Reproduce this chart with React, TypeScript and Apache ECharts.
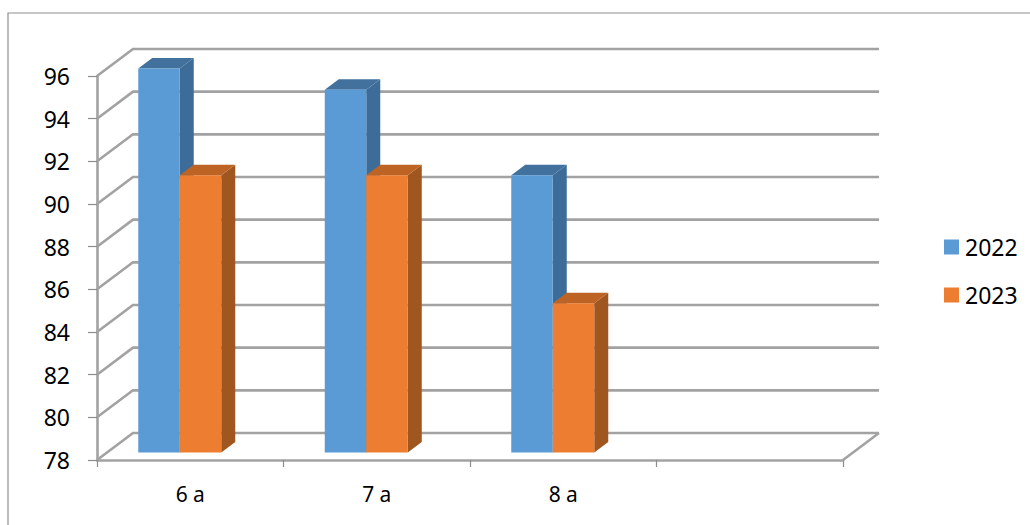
import React, { useEffect, useRef } from "react";
import * as echarts from "echarts";

const categories = ["6 a", "7 a", "8 a", ""];
const series2022 = [96, 95, 91, null];
const series2023 = [91, 91, 85, null];
const yTicks = [78, 80, 82, 84, 86, 88, 90, 92, 94, 96];
const BLUE = ["#5b9bd5", "#3d6c98", "#41719c"];
const ORANGE = ["#ed7d31", "#a0561f", "#bd6425"];
const GRID = "#a2a2a2";
const FONT = "'Noto Sans', sans-serif";
const D = { x: 36, y: -27 };
const BAR_W = 41.5;
const DEPTH = { x: 14, y: -10.5 };
const SHIFT = { x: -10.5, y: -7.5 };

const wallItem = (params: any, api: any) => {
  const v = api.value(0);
  const [, y] = api.coord([0, v]);
  const r = params.coordSys.x + params.coordSys.width;
  const x = params.coordSys.x;
  const lineStyle = { stroke: GRID, lineWidth: 2.6, fill: "none" };
  const children: any[] = [
    { type: "polyline", shape: { points: [[x, y], [x + D.x, y + D.y], [r + D.x, y + D.y]] }, style: lineStyle },
  ];
  if (v === yTicks[0]) {
    children.push({ type: "line", shape: { x1: r, y1: y, x2: r + D.x, y2: y + D.y }, style: lineStyle });
  }
  return { type: "group", children };
};

const barItem = (colors: string[], side: number) => (params: any, api: any) => {
  const catIndex = api.value(0);
  const val = api.value(1);
  const [cx, top0] = api.coord([catIndex, val]);
  const [, bot0] = api.coord([catIndex, yTicks[0]]);
  const left = cx + SHIFT.x + (side < 0 ? -BAR_W : 0);
  const right = left + BAR_W;
  const top = top0 + SHIFT.y;
  const bot = bot0 + SHIFT.y;
  return {
    type: "group",
    children: [
      { type: "polygon", shape: { points: [[right, top], [right + DEPTH.x, top + DEPTH.y], [right + DEPTH.x, bot + DEPTH.y], [right, bot]] }, style: { fill: colors[1] } },
      { type: "polygon", shape: { points: [[left, top], [left + DEPTH.x, top + DEPTH.y], [right + DEPTH.x, top + DEPTH.y], [right, top]] }, style: { fill: colors[2] } },
      { type: "rect", shape: { x: left, y: top, width: BAR_W, height: bot - top }, style: { fill: colors[0] } },
    ],
  };
};

const toBarData = (vals: (number | null)[]) =>
  vals.map((v, i) => [i, v]).filter((d) => d[1] !== null);

export default function App() {
  const ref = useRef<HTMLDivElement>(null);
  useEffect(() => {
    const chart = echarts.init(ref.current!, undefined, { renderer: "svg" });
    chart.setOption({
      animation: false,
      backgroundColor: "#ffffff",
      graphic: [
        { type: "polyline", z: 0, shape: { points: [[8, 525], [8, 13], [1030, 13]] }, style: { stroke: "#8f8f8f", lineWidth: 1.2, fill: "none" } },
      ],
      legend: {
        orient: "vertical",
        left: 944,
        top: 235.5,
        padding: 0,
        itemWidth: 15,
        itemHeight: 15,
        itemGap: 25,
        icon: "rect",
        textStyle: { fontFamily: FONT, fontSize: 23, lineHeight: 15, height: 15, color: "#000", padding: [0, 0, 0, 1] },
        data: [
          { name: "2022", itemStyle: { color: BLUE[0] } },
          { name: "2023", itemStyle: { color: ORANGE[0] } },
        ],
      },
      grid: { left: 97, top: 76, width: 746, height: 384 },
      xAxis: {
        type: "category",
        data: categories,
        axisLine: { lineStyle: { color: GRID, width: 2.6 } },
        axisTick: { show: true, length: 7, lineStyle: { color: "#8c8c8c", width: 1.2 } },
        axisLabel: { fontFamily: FONT, fontSize: 21, color: "#000", margin: 23 },
      },
      yAxis: {
        type: "value",
        min: 78,
        max: 96,
        interval: 2,
        splitLine: { show: false },
        axisLine: { show: true, lineStyle: { color: GRID, width: 2.6 } },
        axisTick: { show: true, length: 9, lineStyle: { color: "#8c8c8c", width: 1.2 } },
        axisLabel: { fontFamily: FONT, fontSize: 23, color: "#000", margin: 27, padding: [3, 0, 0, 0] },
      },
      series: [
        { type: "custom", name: "walls", silent: true, z: 1, encode: { y: 0 }, renderItem: wallItem, data: yTicks.map((t) => [t]), clip: false },
        { type: "custom", name: "2022", z: 3, renderItem: barItem(BLUE, -1), encode: { x: 0, y: 1 }, data: toBarData(series2022), clip: false },
        { type: "custom", name: "2023", z: 4, renderItem: barItem(ORANGE, 1), encode: { x: 0, y: 1 }, data: toBarData(series2023), clip: false },
      ],
    });
    return () => chart.dispose();
  }, []);
  return <div ref={ref} style={{ position: "absolute", left: 0, top: 0, width: 1030, height: 525 }} />;
}
